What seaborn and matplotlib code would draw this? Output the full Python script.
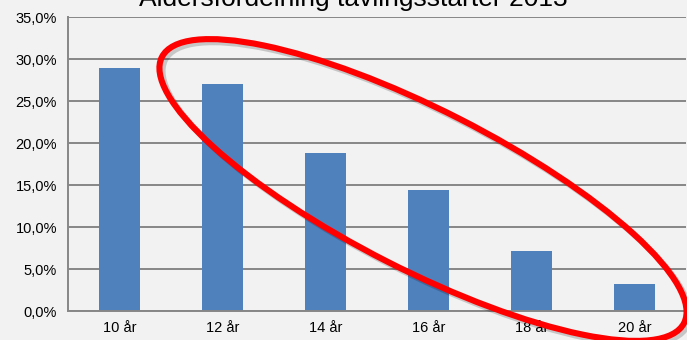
import matplotlib
matplotlib.use("Agg")
import matplotlib.pyplot as plt
import seaborn as sns
import pandas as pd
import numpy as np
from matplotlib.patches import Ellipse
from matplotlib.transforms import IdentityTransform
from matplotlib.ticker import FuncFormatter, FixedLocator

categories = ["10 år", "12 år", "14 år", "16 år", "18 år", "20 år"]
values = [0.290, 0.271, 0.188, 0.145, 0.072, 0.032]
yticks = [0.0, 0.05, 0.10, 0.15, 0.20, 0.25, 0.30, 0.35]
title = "Åldersfördelning tävlingsstarter 2013"

sns.set_theme(style="white")
plt.rcParams['font.family'] = ['Liberation Sans', 'DejaVu Sans']

bg = "#f2f2f2"
grid_c = "#878787"
bar_c = "#4f81bd"

fig = plt.figure(figsize=(6.87, 3.40), dpi=100, facecolor=bg)
ax = fig.add_axes([68/687, 28.7/340, 618/687, 294/340])
ax.set_facecolor(bg)

df = pd.DataFrame({"cat": categories, "val": values})
sns.barplot(data=df, x="cat", y="val", color=bar_c, width=0.4, ax=ax,
            saturation=1, edgecolor="none")

ax.set_xlim(-0.5, len(categories) - 0.5)
ax.set_ylim(0, 0.35)
ax.set_yticks(yticks)
ax.yaxis.set_major_formatter(FuncFormatter(lambda v, p: f"{v*100:.1f}%".replace(".", ",")))
ax.grid(axis="y", color=grid_c, linewidth=1.4)
ax.set_axisbelow(True)
ax.set_xlabel("")
ax.set_ylabel("")

for s in ["top", "right"]:
    ax.spines[s].set_visible(False)
for s in ["left", "bottom"]:
    ax.spines[s].set_color(grid_c)
    ax.spines[s].set_linewidth(1.4)

ax.tick_params(axis="y", length=5, color=grid_c, width=1.4, labelsize=10.5, pad=3, labelcolor="black")
ax.tick_params(axis="x", which="major", length=0, labelsize=10.5, pad=7, labelcolor="black")
ax.xaxis.set_minor_locator(FixedLocator(np.arange(-0.5, len(categories), 1.0)))
ax.tick_params(axis="x", which="minor", length=5, color=grid_c, width=1.4, direction="out")

fig.text(353/687, 0.982, title, ha="center", va="baseline", fontsize=19, color="black")

# red annotation ellipse (display pixel coordinates)
shadow = Ellipse((426, 340 - 193), 586, 160, angle=-27, fill=False,
                 edgecolor=(0, 0, 0, 0.18), linewidth=4.5, transform=IdentityTransform())
fig.add_artist(shadow)
ell = Ellipse((423, 340 - 190), 586, 160, angle=-27, fill=False,
              edgecolor="#ff0000", linewidth=4.4, transform=IdentityTransform())
fig.add_artist(ell)

fig.savefig("out.png", dpi=100, facecolor=bg)
